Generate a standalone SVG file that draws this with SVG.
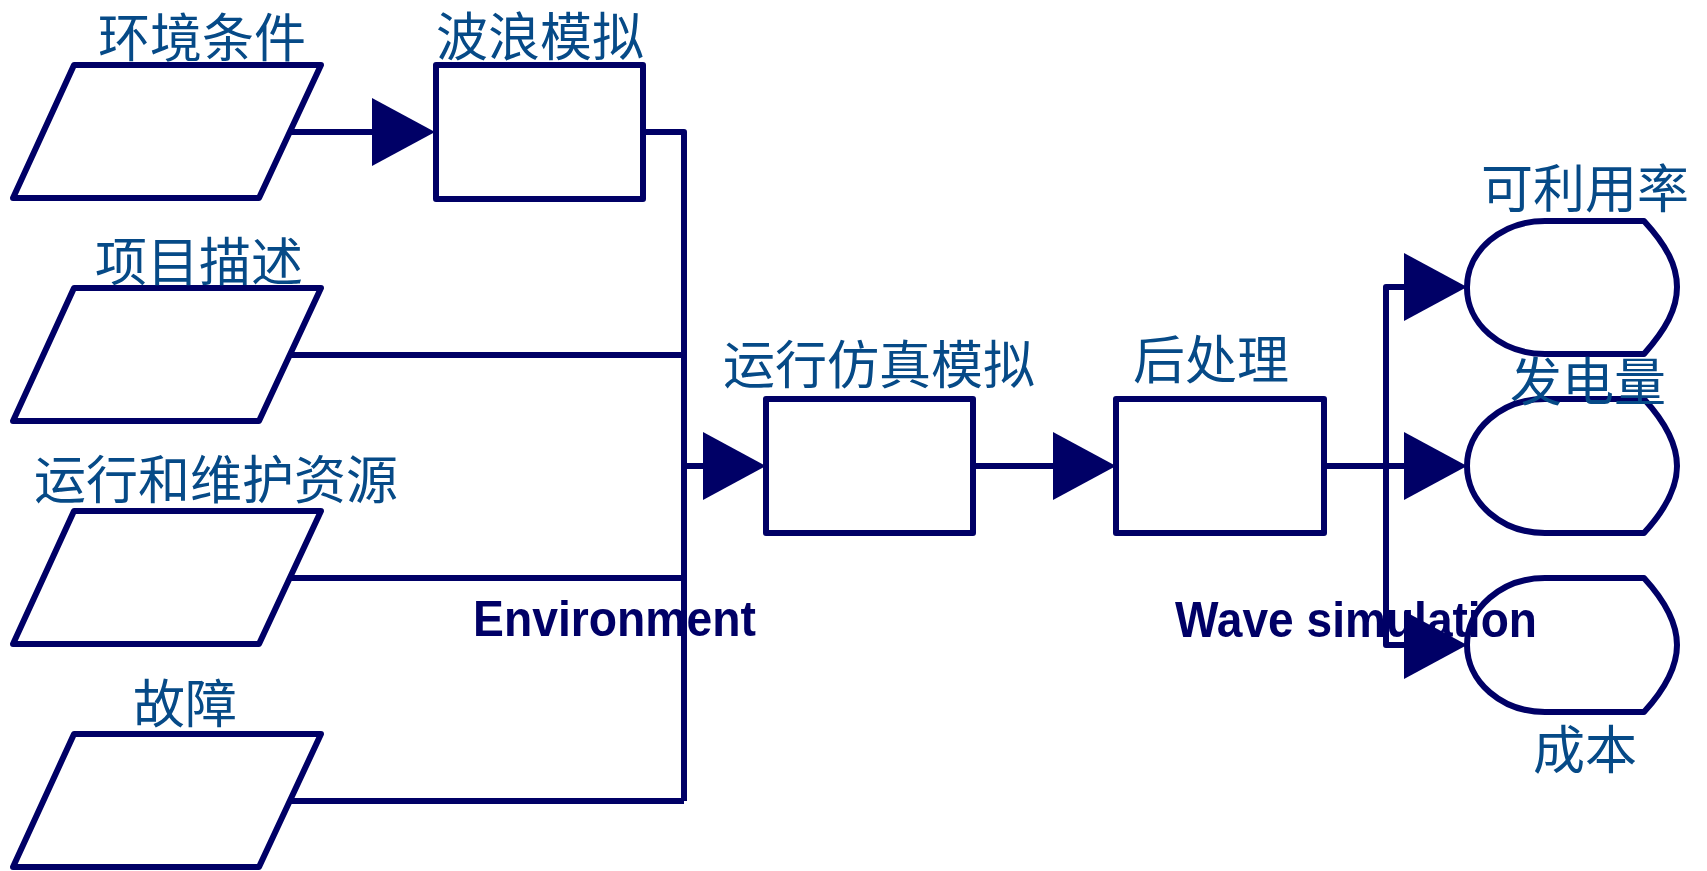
<svg xmlns="http://www.w3.org/2000/svg" width="1707" height="871" viewBox="0 0 1707 871">
<defs>
<style>
.shape{fill:#ffffff;stroke:#000066;stroke-width:6;stroke-linejoin:round}
.conn{fill:none;stroke:#000066;stroke-width:6;stroke-linejoin:round}
.arr{fill:#000066;stroke:none}
.zh{font-family:"Noto Sans CJK SC","Noto Sans",sans-serif;font-size:52px;fill:#064a87;text-anchor:middle}
.en{font-family:"Liberation Sans",Arial,sans-serif;font-weight:bold;font-size:50px;fill:#000066}
</style>
<polygon id="ah" points="0,-34 63,0 0,34"/>
</defs>
<rect width="1707" height="871" fill="#ffffff"/>

<g id="in1">
<polygon class="shape" points="74,65 321,65 259,198 13,198"/>
<text class="zh" x="202" y="57">环境条件</text>
</g>
<g id="in2">
<polygon class="shape" points="74,288 321,288 259,421 13,421"/>
<text class="zh" x="199" y="281">项目描述</text>
</g>
<g id="in3">
<polygon class="shape" points="74,511 321,511 259,644 13,644"/>
<text class="zh" x="216" y="499">运行和维护资源</text>
</g>
<g id="in4">
<polygon class="shape" points="74,734 321,734 259,867 13,867"/>
<text class="zh" x="185" y="723">故障</text>
</g>
<g id="wave">
<rect class="shape" x="436" y="65" width="207" height="134"/>
<text class="zh" x="540" y="56">波浪模拟</text>
</g>
<g id="sim">
<rect class="shape" x="766" y="399" width="207" height="134"/>
<text class="zh" x="879" y="384">运行仿真模拟</text>
</g>
<g id="post">
<rect class="shape" x="1116" y="399" width="208" height="134"/>
<text class="zh" x="1211" y="379">后处理</text>
</g>
<g id="out1">
<path class="shape" d="M1545,221 L1644,221 C1666,245 1677,265 1677,287 C1677,309 1666,329 1644,354 L1545,354 A78,66 0 0 1 1467,287 A78,66 0 0 1 1545,221 Z"/>
<text class="zh" x="1585" y="208">可利用率</text>
</g>
<g id="out2">
<path class="shape" d="M1545,399 L1644,399 C1666,423 1677,444 1677,466 C1677,488 1666,509 1644,533 L1545,533 A78,67 0 0 1 1467,466 A78,67 0 0 1 1545,399 Z"/>
<text class="zh" x="1588" y="401">发电量</text>
</g>
<g id="out3">
<path class="shape" d="M1545,578 L1644,578 C1666,602 1677,623 1677,645 C1677,667 1666,688 1644,712 L1545,712 A78,67 0 0 1 1467,645 A78,67 0 0 1 1545,578 Z"/>
<text class="zh" x="1585" y="769">成本</text>
</g>

<g id="labels">
<text class="en" x="473" y="636" textLength="283" lengthAdjust="spacingAndGlyphs">Environment</text>
<text class="en" x="1175" y="637" textLength="362" lengthAdjust="spacingAndGlyphs">Wave simulation</text>
</g>

<g id="connectors">
<path class="conn" d="M289,132 H372"/>
<use href="#ah" class="arr" x="372" y="132"/>
<path class="conn" d="M643,132 H684 V801"/>
<path class="conn" d="M291,355 H684"/>
<path class="conn" d="M291,578 H684"/>
<path class="conn" d="M291,801 H684"/>
<path class="conn" d="M684,466 H703"/>
<use href="#ah" class="arr" x="703" y="466"/>
<path class="conn" d="M973,466 H1053"/>
<use href="#ah" class="arr" x="1053" y="466"/>
<path class="conn" d="M1324,466 H1404"/>
<path class="conn" d="M1404,287 H1386 V645 H1404"/>
<use href="#ah" class="arr" x="1404" y="287"/>
<use href="#ah" class="arr" x="1404" y="466"/>
<use href="#ah" class="arr" x="1404" y="645"/>
</g>
</svg>
